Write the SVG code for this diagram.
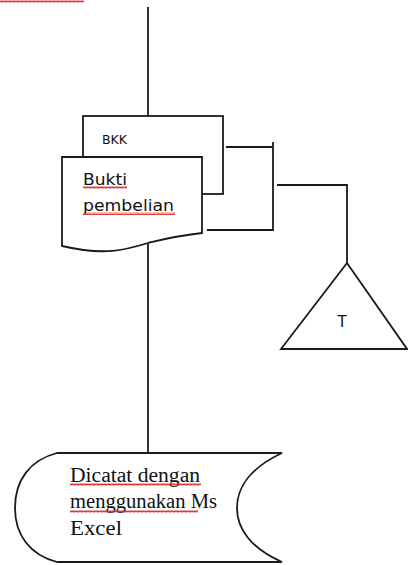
<svg xmlns="http://www.w3.org/2000/svg" width="408" height="565" viewBox="0 0 408 565">
<style>
.ln{fill:none;stroke:#1a1a1a;stroke-width:1.8}
.sh{fill:#fff;stroke:#1a1a1a;stroke-width:1.8}
.sans{font-family:"DejaVu Sans","Liberation Sans",sans-serif;fill:#111}
.serif{font-family:"Liberation Serif","Times New Roman",serif;fill:#111}
.sq{fill:url(#wave)}
</style>
<defs>
<pattern id="wave" x="0" y="0" width="4" height="3" patternUnits="userSpaceOnUse">
<path d="M0,2.5 L1,0.5 L2,2.5 L3,0.5 L4,2.5" fill="none" stroke="#d22" stroke-width="0.9"/>
</pattern>
</defs>
<rect width="408" height="565" fill="#fff"/>
<rect class="sq" x="0" y="0" width="84" height="3"/>
<g id="connectors">
<line class="ln" x1="148" y1="7" x2="148" y2="116"/>
<line class="ln" x1="148" y1="243" x2="148" y2="453"/>
<polyline class="ln" points="226,147 273,147"/>
<line class="ln" x1="273" y1="142" x2="273" y2="231"/>
<line class="ln" x1="207" y1="230" x2="273" y2="230"/>
<polyline class="ln" points="277,185 347,185 347,263"/>
</g>
<g id="node-bkk">
<rect class="sh" x="83" y="116" width="140" height="78"/>
<text class="sans" x="102" y="144" font-size="13" textLength="25" lengthAdjust="spacingAndGlyphs">BKK</text>
</g>
<g id="node-bukti">
<path class="sh" d="M62,157 L202,157 L202,233 C175,236 160,240 148,243 C125,250 105,256 62,246 Z"/>
<text class="sans" x="83" y="185" font-size="16" textLength="44" lengthAdjust="spacingAndGlyphs">Bukti</text>
<text class="sans" x="83" y="211" font-size="16" textLength="91" lengthAdjust="spacingAndGlyphs">pembelian</text>
<rect class="sq" x="83" y="186" width="44" height="3"/>
<rect class="sq" x="83" y="212" width="92" height="3"/>
</g>
<g id="node-t">
<polygon class="sh" points="347,263 281,349 407,349"/>
<text class="sans" x="342" y="327" font-size="15" text-anchor="middle">T</text>
</g>
<g id="node-excel">
<path class="sh" d="M57,453 L282,453 C250,468 237,488 237,508 C237,528 250,548 282,562 L57,562 C30,555 15,535 15,508 C15,480 30,460 57,453 Z"/>
<text class="serif" x="70" y="482" font-size="20" textLength="130" lengthAdjust="spacingAndGlyphs">Dicatat dengan</text>
<text class="serif" x="70" y="508" font-size="20" textLength="147" lengthAdjust="spacingAndGlyphs">menggunakan Ms</text>
<text class="serif" x="70" y="535" font-size="20" textLength="52" lengthAdjust="spacingAndGlyphs">Excel</text>
<rect class="sq" x="70" y="483" width="131" height="3"/>
<rect class="sq" x="70" y="510" width="128" height="3"/>
</g>
</svg>
